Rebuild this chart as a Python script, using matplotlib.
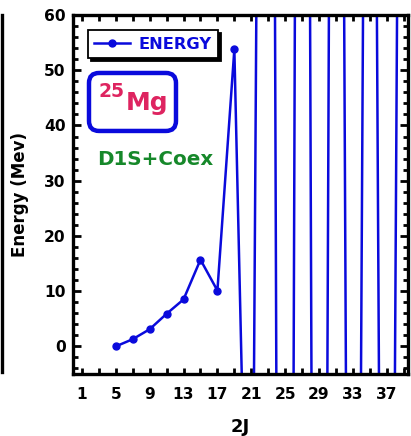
import numpy as np
import matplotlib
matplotlib.use("Agg")
import matplotlib.pyplot as plt
from matplotlib.patches import FancyBboxPatch

# --- Data ---
two_j = [5, 7, 9, 11, 13, 15, 17, 19, 21, 23, 25, 27, 29, 31, 33, 35, 37, 39]
energy = [0.0, 1.3, 3.1, 5.9, 8.5, 15.7, 10.1, 53.8,
          -81, 394, -441, 435, -363, 365, -267, 283, -255, 267]

x_major = [1, 5, 9, 13, 17, 21, 25, 29, 33, 37]
y_major = [0, 10, 20, 30, 40, 50, 60]

BLUE = "#0A0ADC"
RED = "#DE2460"
GREEN = "#16882A"

W, H = 411, 436
fig = plt.figure(figsize=(W / 100, H / 100), dpi=100)
fig.patch.set_facecolor("white")

# axes box in pixels
left_px, right_px, top_px, bot_px = 73.4, 408, 15, 374
ax = fig.add_axes([left_px / W, 1 - bot_px / H,
                   (right_px - left_px) / W, (bot_px - top_px) / H])

ax.plot(two_j, energy, color=BLUE, lw=1.8, marker="o", ms=5, label="ENERGY")
ax.set_xlim(0, 39.5)
ax.set_ylim(-5, 60)

ax.set_xticks(x_major)
ax.set_xticks(np.arange(1, 40, 2), minor=True)
ax.set_yticks(y_major)
ax.set_yticks(np.arange(-4, 60, 2), minor=True)

for lab in ax.get_xticklabels() + ax.get_yticklabels():
    lab.set_fontweight("bold")
ax.tick_params(which="both", direction="in", top=True, right=True,
               width=2.0, labelsize=11.2)
ax.tick_params(axis="y", which="major", length=5.5, pad=5.5)
ax.tick_params(axis="y", which="minor", length=3.5)
ax.tick_params(axis="x", which="both", length=4.3, pad=9)
for s in ax.spines.values():
    s.set_linewidth(2.4)

ax.set_xlabel("2J", fontsize=13, fontweight="bold", labelpad=12)
ax.set_ylabel("Energy (Mev)", fontsize=12, fontweight="bold", labelpad=11)

leg = ax.legend(loc="upper left", bbox_to_anchor=(0.0436, 0.958),
                borderaxespad=0, fancybox=False, framealpha=1,
                edgecolor="black", handlelength=2.2, handletextpad=0.5,
                prop={"weight": "bold", "size": 11.7}, labelcolor=BLUE,
                shadow={"color": "black", "alpha": 1})
leg.get_frame().set_linewidth(1.3)

# 25Mg box
box = FancyBboxPatch((0.0466, 0.677), 0.26, 0.1615,
                     boxstyle="round,pad=0,rounding_size=0.03",
                     transform=ax.transAxes, mutation_aspect=334.6 / 359,
                     facecolor="white", edgecolor=BLUE, lw=3.2)
ax.add_patch(box)
ax.text(0.157, 0.735, "Mg", transform=ax.transAxes, fontsize=18,
        fontweight="bold", color=RED, ha="left", va="baseline")
ax.text(0.153, 0.772, "25", transform=ax.transAxes, fontsize=13.5,
        fontweight="bold", color=RED, ha="right", va="baseline")

ax.text(0.244, 0.598, "D1S+Coex", transform=ax.transAxes, fontsize=14.3,
        fontweight="bold", color=GREEN, ha="center", va="center")

# edge of the neighbouring panel on the far left
ax0 = fig.add_axes([-0.2, 1 - 372 / H, 0.2 + 1.5 / W, (372 - top_px) / H])
ax0.patch.set_visible(False)
for k in ["left", "top", "bottom"]:
    ax0.spines[k].set_visible(False)
ax0.spines["right"].set_linewidth(2.4)
ax0.set_xticks([])
ax0.set_yticks([])

fig.savefig("out.png", dpi=100, facecolor="white")
